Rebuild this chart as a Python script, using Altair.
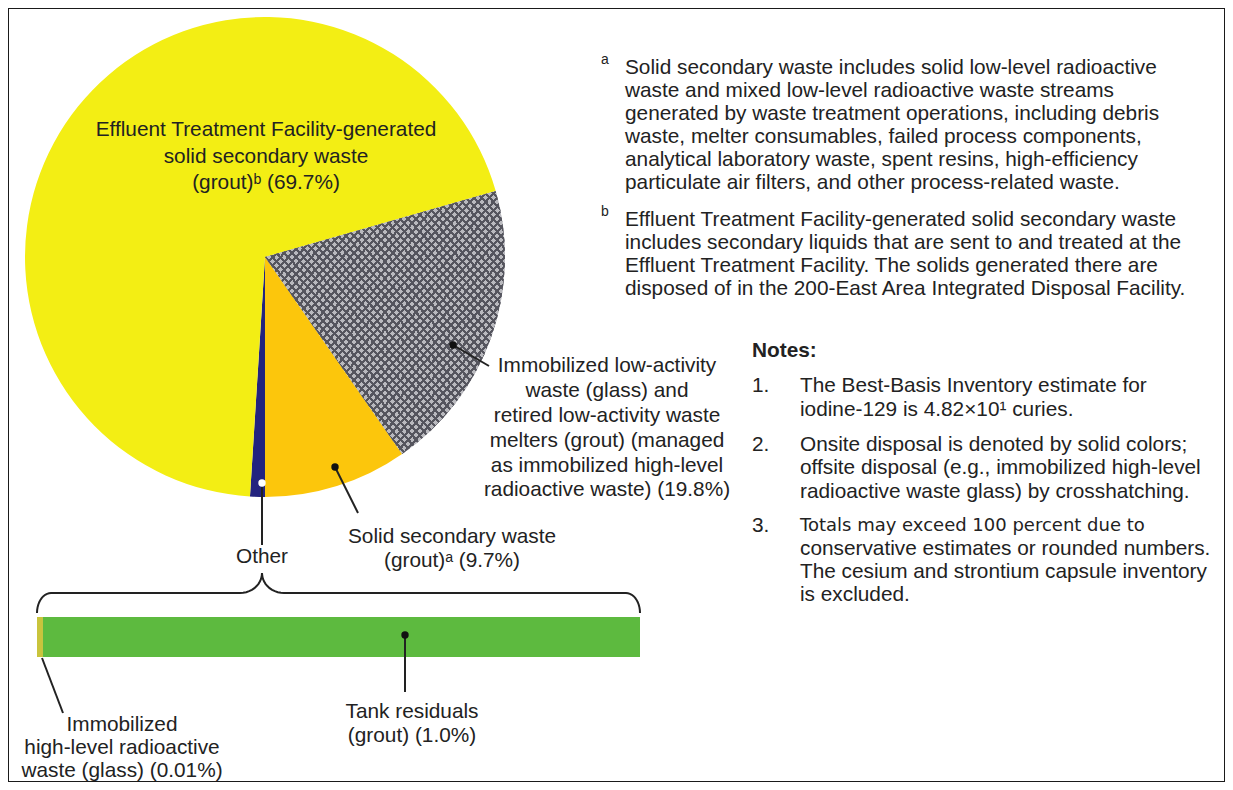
import math
import numpy as np
import pandas as pd
import altair as alt

# ---------------- data ----------------
slice_names = ["Immobilized low-activity waste and retired LAW melters",
               "Solid secondary waste", "Other",
               "Effluent Treatment Facility-generated solid secondary waste"]
slice_pct = [19.8, 9.7, 1.0, 69.7]
slice_order = [1, 2, 3, 4]
slice_colors = ["#b5b5ba", "#fcc60c", "#23237f", "#f3ee14"]
slice_hatch = [1, 0, 0, 0]

other_names = ["Immobilized high-level radioactive waste (glass)", "Tank residuals (grout)"]
other_pct = [0.01, 1.0]
other_order = [1, 2]
other_colors = ["#c9c43c", "#5dba3f"]

OFF = 8          # page margin
W, H = 1217, 774
FONT = "Liberation Sans"
INK = "#222222"
FS = 20.8

# ---------------- pie ----------------
pie_df = pd.DataFrame({"name": slice_names, "pct": slice_pct, "ord": slice_order,
                       "hatch": slice_hatch})
total = sum(slice_pct)
start = math.pi - 2 * math.pi * (slice_pct[0] + slice_pct[1]) / total
theta = alt.Theta("pct:Q", stack=True, scale=alt.Scale(range=[start, start + 2 * math.pi]))
cx, cy, R = 265 - OFF, 257 - OFF, 240

pie = alt.Chart(pie_df).mark_arc(radius=R).encode(
    theta=theta,
    order=alt.Order("ord:Q"),
    color=alt.Color("name:N", scale=alt.Scale(domain=slice_names, range=slice_colors), legend=None),
    x=alt.value(cx), y=alt.value(cy),
)


def hatch_gradient(n, light, dark, x1, y1, x2, y2, frac=0.62):
    stops = []
    for i in range(n):
        b = i / n
        m = (i + frac) / n
        e = (i + 1) / n
        stops += [{"offset": b, "color": light}, {"offset": m, "color": light},
                  {"offset": m, "color": dark}, {"offset": e, "color": dark}]
    return {"gradient": "linear", "stops": stops, "x1": x1, "y1": y1, "x2": x2, "y2": y2}


hatchA = alt.Chart(pie_df).mark_arc(
    radius=R, fill=hatch_gradient(62, "#b9b9be", "#55555e", 0, 0, 1, 1)).encode(
    theta=theta, order=alt.Order("ord:Q"),
    fillOpacity=alt.FillOpacity("hatch:Q", scale=None),
    x=alt.value(cx), y=alt.value(cy))
hatchB = alt.Chart(pie_df).mark_arc(
    radius=R, fill=hatch_gradient(62, "rgba(255,255,255,0)", "#55555e", 1, 0, 0, 1)).encode(
    theta=theta, order=alt.Order("ord:Q"),
    fillOpacity=alt.FillOpacity("hatch:Q", scale=None),
    x=alt.value(cx), y=alt.value(cy))

# ---------------- "Other" bar ----------------
bar_df = pd.DataFrame({"name": other_names, "pct": other_pct, "ord": other_order})
bar = alt.Chart(bar_df).transform_stack(
    stack="pct", groupby=[], as_=["p0", "p1"], sort=[alt.SortField("ord", order="ascending")]
).mark_bar().encode(
    x=alt.X("p0:Q", axis=None,
            scale=alt.Scale(domain=[0, sum(other_pct)], range=[37 - OFF, 640 - OFF], nice=False, zero=True)),
    x2="p1:Q",
    color=alt.Color("name:N", scale=alt.Scale(domain=other_names, range=other_colors), legend=None),
    y=alt.value(617 - OFF), y2=alt.value(657 - OFF),
)

# ---------------- brace ----------------
x0, x1, xp = 37, 640, 262
y_top, y_peak, y_end = 593, 573, 613
w_end, w_mid = 14, 22
pts = []
th = np.linspace(0, math.pi / 2, 12)
for t in th:  # left end curl
    pts.append((x0 + w_end - w_end * math.cos(t), y_end - (y_end - y_top) * math.sin(t)))
for t in th:  # rise to peak
    pts.append((xp - w_mid + w_mid * math.sin(t), y_peak + (y_top - y_peak) * math.cos(t)))
for t in th[::-1]:  # fall from peak
    pts.append((xp + w_mid - w_mid * math.sin(t), y_peak + (y_top - y_peak) * math.cos(t)))
for t in th[::-1]:  # right end curl
    pts.append((x1 - w_end + w_end * math.cos(t), y_end - (y_end - y_top) * math.sin(t)))
brace_df = pd.DataFrame(pts, columns=["x", "y"]) - OFF
brace_df["i"] = range(len(brace_df))
brace = alt.Chart(brace_df).mark_line(color=INK, strokeWidth=2).encode(
    x=alt.X("x:Q", scale=None, axis=None), y=alt.Y("y:Q", scale=None, axis=None),
    order="i:Q")

# ---------------- leader lines & dots ----------------
leaders = pd.DataFrame([
    (453, 345, 489, 366),
    (335, 467, 358, 513),
    (262, 487, 262, 545),
    (405, 635, 405, 692),
    (42, 658, 63, 713),
], columns=["x", "y", "x2", "y2"]) - OFF
lead = alt.Chart(leaders).mark_rule(color=INK, strokeWidth=2).encode(
    x=alt.X("x:Q", scale=None, axis=None), y=alt.Y("y:Q", scale=None, axis=None),
    x2="x2:Q", y2="y2:Q")

dots = pd.DataFrame([(453, 345, "#111111"), (335, 467, "#111111"), (405, 635, "#111111"),
                     (262, 483, "#ffffff")], columns=["x", "y", "c"])
dots[["x", "y"]] -= OFF
dot = alt.Chart(dots).mark_point(filled=True, size=55, opacity=1).encode(
    x=alt.X("x:Q", scale=None, axis=None), y=alt.Y("y:Q", scale=None, axis=None),
    color=alt.Color("c:N", scale=None))


# ---------------- text ----------------
def texts(rows, align="center", size=FS, weight="normal", font=FONT, color=INK):
    df = pd.DataFrame(rows, columns=["t", "x", "y"])
    df["x"] -= OFF
    df["y"] -= OFF
    return alt.Chart(df).mark_text(align=align, baseline="middle", fontSize=size,
                                   fontWeight=weight, font=font, color=color).encode(
        x=alt.X("x:Q", scale=None, axis=None), y=alt.Y("y:Q", scale=None, axis=None),
        text="t:N")


label_center = texts([
    ("Effluent Treatment Facility-generated", 266, 130),
    ("solid secondary waste", 266, 157),
    ("(grout)ᵇ (69.7%)", 266, 183),
    ("Immobilized low-activity", 607, 366),
    ("waste (glass) and", 607, 391),
    ("retired low-activity waste", 607, 416),
    ("melters (grout) (managed", 607, 441),
    ("as immobilized high-level", 607, 466),
    ("radioactive waste) (19.8%)", 607, 490),
    ("Solid secondary waste", 452, 537),
    ("(grout)ᵃ (9.7%)", 452, 561),
    ("Other", 262, 557),
    ("Tank residuals", 412, 712),
    ("(grout) (1.0%)", 412, 736),
    ("Immobilized", 122, 725),
    ("high-level radioactive", 122, 748),
    ("waste (glass) (0.01%)", 122, 771),
])

foot_marks = texts([("a", 605, 60), ("b", 605, 212)], align="center", size=14)
foot = texts([
    ("Solid secondary waste includes solid low-level radioactive", 625, 68),
    ("waste and mixed low-level radioactive waste streams", 625, 91),
    ("generated by waste treatment operations, including debris", 625, 114),
    ("waste, melter consumables, failed process components,", 625, 137),
    ("analytical laboratory waste, spent resins, high-efficiency", 625, 160),
    ("particulate air filters, and other process-related waste.", 625, 183),
    ("Effluent Treatment Facility-generated solid secondary waste", 625, 220),
    ("includes secondary liquids that are sent to and treated at the", 625, 243),
    ("Effluent Treatment Facility.  The solids generated there are", 625, 266),
    ("disposed of in the 200-East Area Integrated Disposal Facility.", 625, 289),
], align="left")

notes_title = texts([("Notes:", 752, 351)], align="left", size=FS, weight="bold")
notes_num = texts([("1.", 752, 386), ("2.", 752, 445), ("3.", 752, 526)], align="left")
notes = texts([
    ("The Best-Basis Inventory estimate for", 800, 386),
    ("iodine-129 is 4.82×10¹ curies.", 800, 410),
    ("Onsite disposal is denoted by solid colors;", 800, 445),
    ("offsite disposal (e.g., immobilized high-level", 800, 468),
    ("radioactive waste glass) by crosshatching.", 800, 492),
    ("conservative estimates or rounded numbers.", 800, 549),
    ("The cesium and strontium capsule inventory", 800, 572),
    ("is excluded.", 800, 595),
], align="left")
notes3 = texts([("Totals may exceed 100 percent due to", 800, 526)], align="left",
               size=18, font="DejaVu Sans")

chart = alt.layer(
    pie, hatchA, hatchB, bar, brace, lead, dot,
    label_center, foot_marks, foot, notes_title, notes_num, notes, notes3,
).resolve_scale(x="independent", y="independent", color="independent").properties(
    width=W, height=H, padding=0, autosize=alt.AutoSizeParams(type="none"),
    background="#ffffff",
).configure_view(stroke="#1a1a1a", strokeWidth=2)

chart.save("out.html", embed_options={"renderer": "svg", "actions": False})
